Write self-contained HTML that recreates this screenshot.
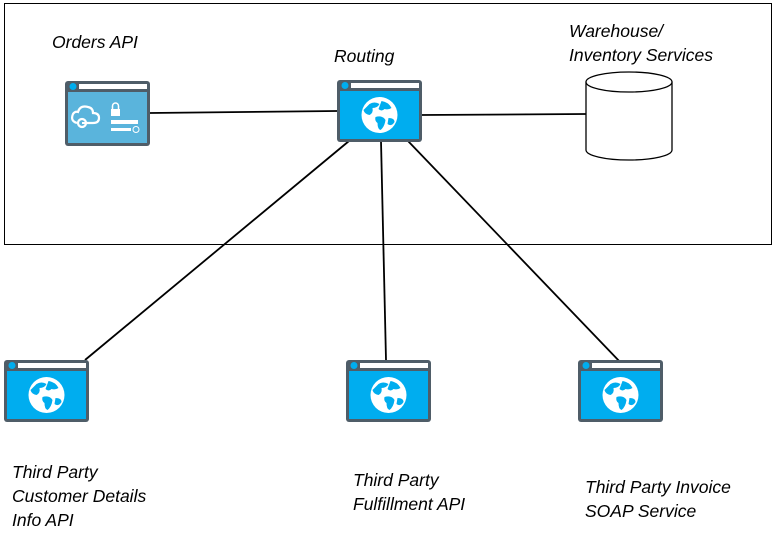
<!DOCTYPE html>
<html><head><meta charset="utf-8"><style>
html,body{margin:0;padding:0;background:#fff;}
svg text{font-family:"Liberation Sans",sans-serif;font-style:italic;font-size:17.5px;fill:#000;}
</style></head><body>
<svg width="774" height="543" viewBox="0 0 774 543" xmlns="http://www.w3.org/2000/svg">
<defs>
<g id="globe">
  <circle cx="0" cy="0" r="18" fill="#fff"/>
  <path d="M-10,-11 q5,-3 10,0 q-2,4 -7,4 q1,5 -3,7 q-5,-1 -6,-5 z" fill="#00adef"/>
  <path d="M2,-14 q7,1 10,7 q-3,2 -7,1 q-3,3 -6,0 z" fill="#00adef"/>
  <path d="M-4,2 q7,-2 10,3 q-1,7 -5,10 q-3,-1 -3,-7 q-3,-2 -2,-6 z" fill="#00adef"/>
  <path d="M9,3 q6,0 6,4 q-3,5 -7,2 z" fill="#00adef"/>
</g>
<g id="win">
  <rect x="0" y="0" width="85" height="62" rx="3" fill="#4f5d68"/>
  <rect x="3" y="11" width="79" height="48" fill="#00adef"/>
  <rect x="14" y="3" width="68" height="5" fill="#fff"/>
  <circle cx="8" cy="5.5" r="3.5" fill="#00adef"/>
  <use href="#globe" x="42.5" y="35"/>
</g>
</defs>
<rect x="4.5" y="3.5" width="767" height="241" fill="none" stroke="#000" stroke-width="1"/>
<g stroke="#000" stroke-width="1.8" fill="none">
  <line x1="150" y1="113" x2="337" y2="111"/>
  <line x1="421" y1="115" x2="586" y2="114"/>
  <line x1="349" y1="141" x2="85" y2="360"/>
  <line x1="381" y1="141" x2="386" y2="360"/>
  <line x1="408" y1="141" x2="622" y2="364"/>
</g>
<g transform="translate(65,81)">
  <rect x="0" y="0" width="85" height="65" rx="3" fill="#4f5d68"/>
  <rect x="3" y="11" width="79" height="51" fill="#5ab4dc"/>
  <rect x="14" y="3" width="68" height="5" fill="#fff"/>
  <circle cx="8" cy="5.5" r="3.5" fill="#00adef"/>
  <path d="M12,42 q-7,-2 -4,-9 q2,-3 5,-2 q2,-7 10,-5 q5,1 5,6 q6,0 6,5 q0,5 -6,5 l-8,0" fill="none" stroke="#fff" stroke-width="2.2"/>
  <circle cx="17" cy="42" r="4" fill="none" stroke="#fff" stroke-width="2.2"/>
  <line x1="17" y1="42" x2="21" y2="42" stroke="#fff" stroke-width="2"/>
  <rect x="46" y="28" width="9" height="7" fill="#fff"/>
  <path d="M47.5,28 v-3 a3,3 0 0 1 6,0 v3" fill="none" stroke="#fff" stroke-width="1.5"/>
  <rect x="46" y="39" width="27" height="4" fill="#fff"/>
  <rect x="46" y="47" width="20" height="3" fill="#fff"/>
  <circle cx="71" cy="48.5" r="3" fill="none" stroke="#fff" stroke-width="1"/>
</g>
<use href="#win" x="337" y="80"/>
<use href="#win" x="4" y="360"/>
<use href="#win" x="346" y="360"/>
<use href="#win" x="578" y="360"/>
<g stroke="#000" stroke-width="1.3" fill="#fff">
  <path d="M586,82 v68 a43,10 0 0 0 86,0 v-68"/>
  <ellipse cx="629" cy="82" rx="43" ry="10"/>
</g>
<text x="52" y="48">Orders API</text>
<text x="334" y="62">Routing</text>
<text x="569" y="37">Warehouse/</text>
<text x="569" y="61">Inventory Services</text>
<text x="12" y="478">Third Party</text>
<text x="12" y="502">Customer Details</text>
<text x="12" y="526">Info API</text>
<text x="353" y="486">Third Party</text>
<text x="353" y="510">Fulfillment API</text>
<text x="585" y="493">Third Party Invoice</text>
<text x="585" y="517">SOAP Service</text>
</svg>
</body></html>
